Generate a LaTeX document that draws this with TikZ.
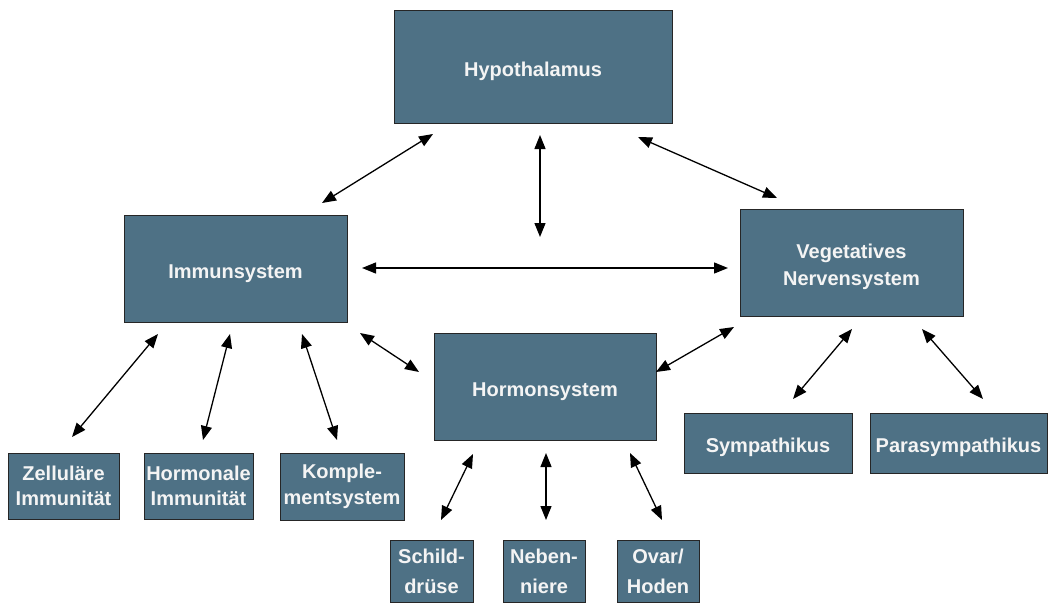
\documentclass[tikz,border=0pt]{standalone}
\usepackage{fontspec}
\setmainfont{Liberation Sans}
\usetikzlibrary{arrows.meta}
\definecolor{boxfill}{RGB}{78,113,133}
\definecolor{boxtext}{RGB}{244,244,244}
\tikzset{
  box/.style={draw=black!85, line width=0.8pt, fill=boxfill, text=boxtext,
    font=\fontsize{20}{25.5}\selectfont\bfseries, align=center,
    inner sep=0pt, anchor=center},
  oneline/.style={text height=19pt, text depth=0pt},
  arr/.style={line width=1.3pt, {Triangle[length=14pt,width=11pt]}-{Triangle[length=14pt,width=11pt]}}
}
\begin{document}
\begin{tikzpicture}[x=1pt,y=-1pt]
\useasboundingbox (0,0) rectangle (1048,605);
% boxes
\node[box, oneline, minimum width=278pt, minimum height=113pt] (hyp) at (533,66.5) {Hypothalamus};
\node[box, oneline, minimum width=223pt, minimum height=107pt] (imm) at (235.5,268.5) {Immunsystem};
\node[box, minimum width=223pt, minimum height=107pt] (veg) at (851.5,262.5) {\raisebox{-4pt}[\height][\depth]{\begin{tabular}{@{}c@{}}Vegetatives\\[1.5pt]Nervensystem\end{tabular}}};
\node[box, oneline, minimum width=222pt, minimum height=107pt] (hor) at (545,386.5) {Hormonsystem};
\node[box, minimum width=111pt, minimum height=66pt] (zel) at (63.5,486) {Zelluläre\\Immunität};
\node[box, minimum width=109pt, minimum height=66pt] (hoi) at (198.5,486) {Hormonale\\Immunität};
\node[box, minimum width=124pt, minimum height=67pt] (kom) at (342,486.5) {Komple-\\mentsystem};
\node[box, minimum width=83pt, minimum height=62pt] (sch) at (431.5,571.5) {Schild-\\[4.5pt]drüse};
\node[box, minimum width=82pt, minimum height=62pt] (neb) at (544,571.5) {Neben-\\[4.5pt]niere};
\node[box, minimum width=82pt, minimum height=62pt] (ova) at (658,571.5) {Ovar/\\[4.5pt]Hoden};
\node[box, oneline, minimum width=168pt, minimum height=60pt] (sym) at (768,443) {Sympathikus};
\node[box, oneline, minimum width=177pt, minimum height=60pt] (par) at (958.5,443) {Parasympathikus};
% arrow end points
\coordinate (hi1) at (433,134); \coordinate (hi2) at (322,203);
\coordinate (hv1) at (638,137); \coordinate (hv2) at (777,198);
\coordinate (hh1) at (540,135); \coordinate (hh2) at (540,237);
\coordinate (iv1) at (362,268); \coordinate (iv2) at (728,268);
\coordinate (ih1) at (360,333); \coordinate (ih2) at (419,372);
\coordinate (vh1) at (734,327); \coordinate (vh2) at (656,372);
\coordinate (iz1) at (158,334); \coordinate (iz2) at (72,437);
\coordinate (io1) at (230,334); \coordinate (io2) at (203,440);
\coordinate (ik1) at (302,334); \coordinate (ik2) at (337,440);
\coordinate (hs1) at (473,454); \coordinate (hs2) at (441,520);
\coordinate (hn1) at (546,453); \coordinate (hn2) at (546,520);
\coordinate (ho1) at (630,453); \coordinate (ho2) at (662,520);
\coordinate (vs1) at (852,329); \coordinate (vs2) at (793,399);
\coordinate (vp1) at (922,329); \coordinate (vp2) at (983,399);
% connectors
\draw[arr] (hi1) -- (hi2);
\draw[arr] (hv1) -- (hv2);
\draw[arr] (hh1) -- (hh2);
\draw[arr] (iv1) -- (iv2);
\draw[arr] (ih1) -- (ih2);
\draw[arr] (vh1) -- (vh2);
\draw[arr] (iz1) -- (iz2);
\draw[arr] (io1) -- (io2);
\draw[arr] (ik1) -- (ik2);
\draw[arr] (hs1) -- (hs2);
\draw[arr] (hn1) -- (hn2);
\draw[arr] (ho1) -- (ho2);
\draw[arr] (vs1) -- (vs2);
\draw[arr] (vp1) -- (vp2);
\end{tikzpicture}
\end{document}
